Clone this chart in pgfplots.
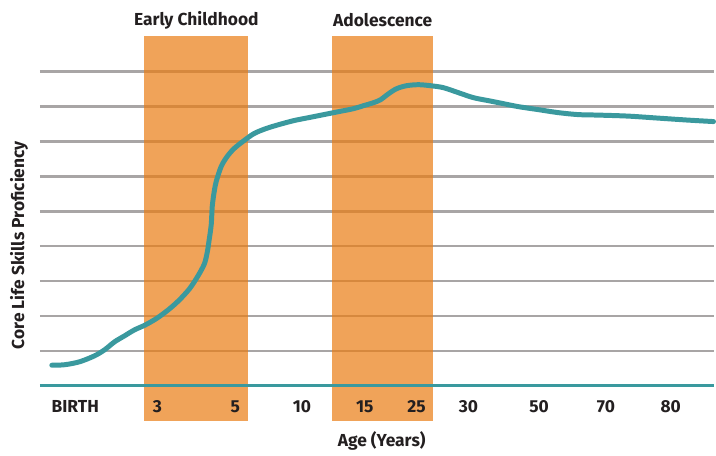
\documentclass[border=0pt]{standalone}
\usepackage{pgfplots}
\pgfplotsset{compat=1.18}
\usepackage{fontspec}
\setmainfont{Fira Sans}
\definecolor{bandor}{RGB}{234,124,19}
\definecolor{teal1}{RGB}{58,153,158}
\definecolor{gridg}{RGB}{168,165,165}
\definecolor{txt}{RGB}{35,31,32}
\pgfplotsset{
  layers/mylayers/.define layer set={axis background,axis grid,main,axis ticks,axis lines,axis tick labels,axis descriptions,axis foreground}{/pgfplots/layers/standard},
}
\begin{document}
\begin{tikzpicture}
\begin{axis}[
  set layers=mylayers,
  scale only axis, width=676bp, height=351bp,
  xmin=40, xmax=716, ymin=0, ymax=351,
  enlargelimits=false, clip=false,
  axis line style={draw=none},
  major tick length=0pt,
  ytick={35,70,...,315}, yticklabels={},
  ymajorgrids, grid style={gridg, line width=2.5bp},
  xtick={75.5,158,236,303,366,418,470,541,608,673},
  xticklabels={BIRTH,3,5,10,15,25,30,50,70,80},
  xticklabel style={anchor=base, yshift=-26.5bp, font=\fontsize{17.5}{19}\selectfont\bfseries, text=txt},
  /pgf/number format/assume math mode=true,
]
\path (axis cs:0,-70) rectangle (axis cs:716,387);
\addplot[draw=none, fill=bandor, fill opacity=0.7] coordinates {(145,-35) (249,-35) (249,351) (145,351)} -- cycle;
\addplot[draw=none, fill=bandor, fill opacity=0.7] coordinates {(333,-35) (435,-35) (435,351) (333,351)} -- cycle;
\addplot[teal1, line width=3bp] coordinates {(40,0) (716,0)};
\addplot[teal1, line width=5bp, line cap=round, smooth, tension=0.5] coordinates {
(52,20.5)(65,21)(80,24)(95,30)(105,36)(115,44)(125,50)(135,56)(146,61)(158,68)(170,77)(180,86)(190,97)(198,109)(205,122)(208,134)(210,147)(212,162)(213,180)(215,195)(217,205)(222,220)(228,230)(235,238)(245,246)(255,253)(267,258)(280,262)(295,266)(310,269)(325,272)(340,275)(355,278)(365,281)(375,284)(382,287)(390,293)(398,298)(408,301)(420,302)(432,301)(445,299)(460,294)(475,289)(490,286)(505,283)(520,280)(540,277)(560,274)(580,272)(600,271.5)(630,270.5)(660,268.5)(690,266.5)(716,265)};
\node[font=\fontsize{17.5}{19}\selectfont\bfseries, text=txt] at (axis cs:197,367) {Early Childhood};
\node[font=\fontsize{17.5}{19}\selectfont\bfseries, text=txt] at (axis cs:384,367) {Adolescence};
\node[font=\fontsize{17.5}{19}\selectfont\bfseries, text=txt] at (axis cs:383,-56) {Age (Years)};
\node[font=\fontsize{17.5}{19}\selectfont\bfseries, text=txt, rotate=90] at (axis cs:19,141) {Core Life Skills Proficiency};
\end{axis}
\end{tikzpicture}
\end{document}
